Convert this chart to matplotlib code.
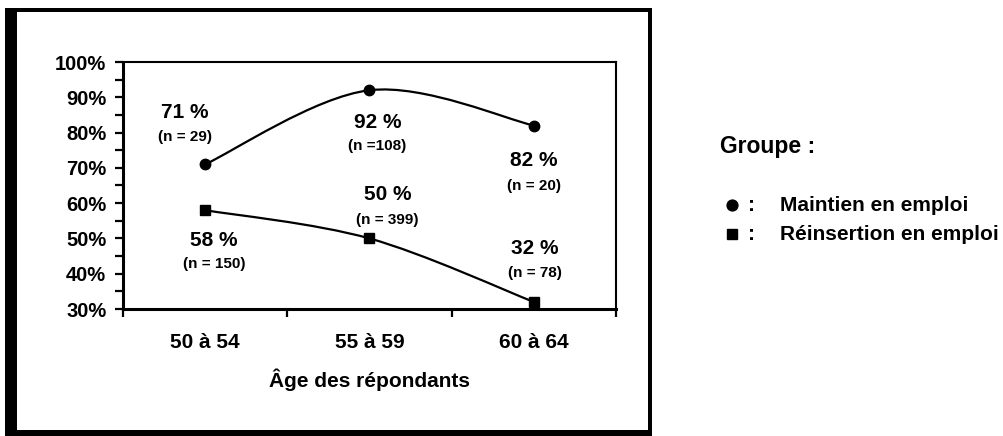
import numpy as np
import matplotlib
matplotlib.use("Agg")
import matplotlib.pyplot as plt
from matplotlib.path import Path
from matplotlib.patches import PathPatch, Rectangle
from matplotlib.lines import Line2D
import matplotlib.ticker as ticker

plt.rcParams['font.family'] = ['Liberation Sans', 'DejaVu Sans']
plt.rcParams['font.weight'] = 'bold'

# ── Données ───────────────────────────────────────────────────────────────────
categories  = ['50 à 54', '55 à 59', '60 à 64']
maintien    = [0.71, 0.92, 0.82]
reinsertion = [0.58, 0.50, 0.32]
n_maintien  = ['(n = 29)', '(n =108)', '(n = 20)']
n_reinsert  = ['(n = 150)', '(n = 399)', '(n = 78)']
yticks      = [0.30, 0.40, 0.50, 0.60, 0.70, 0.80, 0.90, 1.00]

# décalages des étiquettes (en pixels: dx, dy du % et dy du n)
off_maintien = [(-20, 52, 27), (8, -32, -56), (0, -35, -60)]
off_reinsert = [(9, -30, -54), (18, 44, 18), (1, 53, 29)]

W, H = 1004, 436
fig = plt.figure(figsize=(W / 100, H / 100), dpi=100)

def fx(x):
    return x / W

def fy(y):
    return 1 - y / H

def rect(x0, y0, x1, y1):
    fig.add_artist(Rectangle((fx(x0), fy(y1)), fx(x1) - fx(x0), fy(y0) - fy(y1),
                             transform=fig.transFigure, color='black', lw=0))

# ── Cadre ─────────────────────────────────────────────────────────────────────
rect(5, 8, 652, 12)
rect(5, 8, 17, 436)
rect(648, 8, 652, 436)
rect(5, 430, 652, 436)

ax = fig.add_axes([fx(123), fy(309), (616 - 123) / W, (309 - 62) / H])
x = np.arange(len(categories))


def smooth_path(xs, ys):
    # courbe lissée (Bézier type Catmull-Rom) passant par les points
    pts = np.column_stack([xs, ys]).astype(float)
    ext = np.vstack([pts[0], pts, pts[-1]])
    verts = [pts[0]]
    codes = [Path.MOVETO]
    for i in range(len(pts) - 1):
        p0, p1, p2, p3 = ext[i], ext[i + 1], ext[i + 2], ext[i + 3]
        c1 = p1 + (p2 - p0) / 6
        c2 = p2 - (p3 - p1) / 6
        verts += [c1, c2, p2]
        codes += [Path.CURVE4] * 3
    return Path(verts, codes)


for vals, mk in [(maintien, 'o'), (reinsertion, 's')]:
    ax.add_patch(PathPatch(smooth_path(x, vals), fill=False, lw=1.6, color='black'))
    ax.plot(x, vals, linestyle='none', marker=mk, ms=7.5, color='black', zorder=5)

for vals, ns, offs in [(maintien, n_maintien, off_maintien),
                       (reinsertion, n_reinsert, off_reinsert)]:
    for xi, v, nlab, (dx, dy1, dy2) in zip(x, vals, ns, offs):
        ax.annotate(f'{round(v * 100)} %', (xi, v), xytext=(dx * 0.72, dy1 * 0.72),
                    textcoords='offset points', ha='center', va='center',
                    fontsize=15, fontweight='bold')
        ax.annotate(nlab, (xi, v), xytext=(dx * 0.72, dy2 * 0.72),
                    textcoords='offset points', ha='center', va='center',
                    fontsize=11, fontweight='bold')

ax.set_xlim(-0.5, 2.5)
ax.set_ylim(0.30, 1.00)
ax.set_yticks(yticks)
ax.yaxis.set_major_formatter(ticker.FuncFormatter(lambda v, p: f'{round(v * 100)}%'))
ax.yaxis.set_minor_locator(ticker.MultipleLocator(0.05))
ax.tick_params(axis='y', which='both', direction='out', length=6, width=1.6,
               labelsize=14.5, pad=6)

ax.set_xticks([-0.5, 0.5, 1.5, 2.5])
ax.set_xticklabels([])
ax.set_xticks(x, minor=True)
ax.set_xticklabels(categories, minor=True, fontsize=15, fontweight='bold')
ax.tick_params(axis='x', which='major', direction='out', length=5.5, width=1.6)
ax.tick_params(axis='x', which='minor', length=0, pad=17)
for t in ax.get_yticklabels():
    t.set_fontweight('bold')

ax.set_xlabel('Âge des répondants', fontsize=15, fontweight='bold', labelpad=12)

for side in ['left', 'bottom']:
    ax.spines[side].set_linewidth(2.2)
for side in ['top', 'right']:
    ax.spines[side].set_linewidth(1.5)

# ── Légende ───────────────────────────────────────────────────────────────────
fig.text(fx(720), fy(146), 'Groupe :', fontsize=16.5, fontweight='bold', va='center')
legend_labels = ['Maintien en emploi', 'Réinsertion en emploi']
for mk, lab, yy in zip(['o', 's'], legend_labels, [205, 234]):
    fig.add_artist(Line2D([fx(732)], [fy(yy)], marker=mk, ms=7.8, color='black',
                          linestyle='none', transform=fig.transFigure))
    fig.text(fx(752), fy(yy), ':', fontsize=15, fontweight='bold', ha='center', va='center')
    fig.text(fx(780), fy(yy), lab, fontsize=15, fontweight='bold', va='center')

fig.savefig('out.png', dpi=100)
